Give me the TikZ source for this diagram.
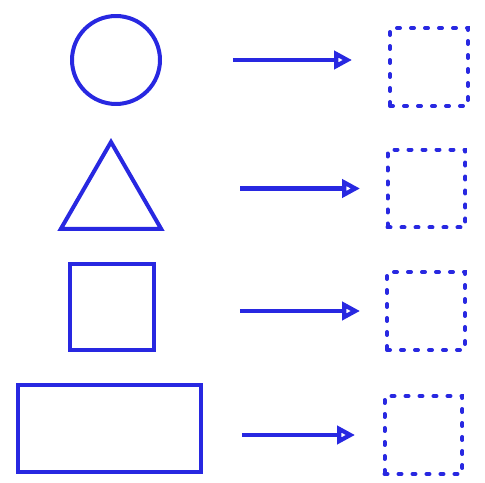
\documentclass[tikz,border=0pt]{standalone}
\usepackage{xcolor}
\usepackage{tikz}
\usetikzlibrary{shapes.geometric,arrows.meta}

\definecolor{pen}{RGB}{40,40,225}

\begin{document}
\begin{tikzpicture}[
    x=0.02cm, y=-0.02cm,
    every node/.style={inner sep=0pt, outer sep=0pt},
    figure/.style={draw=pen, line width=0.08cm},
    target/.style={draw=pen, rectangle, minimum size=1.56cm, line width=0.08cm, line cap=round, dash pattern=on 0.06cm off 0.22cm},
    arrow/.style={draw=pen, line width=0.085cm, -{Triangle[open, length=0.36cm, width=0.36cm]}}
]
    \useasboundingbox (0,0) rectangle (485,483);

    % Formas da esquerda
    \node (circ) [figure, circle, minimum size=1.76cm] at (116,60) {};
    \node (tri) [figure, regular polygon, regular polygon sides=3, minimum size=2.32cm] at (111,200) {};
    \node (sq) [figure, rectangle, minimum width=1.68cm, minimum height=1.72cm] at (112,307) {};
    \node (rect) [figure, rectangle, minimum width=3.66cm, minimum height=1.74cm] at (109.5,428.5) {};

    % Quadrados pontilhados
    \node (box1) [target] at (429,67) {};
    \node (box2) [target] at (426.5,188.5) {};
    \node (box3) [target] at (426,311) {};
    \node (box4) [target] at (423.5,435) {};

    % Setas
    \draw [arrow, shorten <=1.46cm, shorten >=0.76cm] (circ.east) -- (circ.east -| box1.west);
    \draw [arrow, shorten <=1.92cm, shorten >=0.55cm] (box2.west -| tri.east) -- (box2.west);
    \draw [arrow, shorten <=1.72cm, shorten >=0.54cm] (box3.west -| sq.east) -- (box3.west);
    \draw [arrow, shorten <=0.82cm, shorten >=0.59cm] (box4.west -| rect.east) -- (box4.west);

\end{tikzpicture}
\end{document}
